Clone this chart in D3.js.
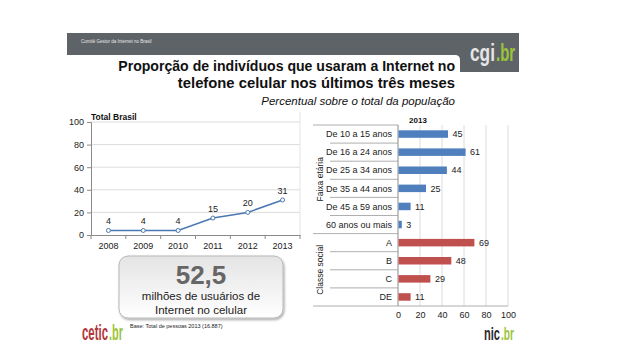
<!DOCTYPE html>
<html><head><meta charset="utf-8">
<script src="https://cdn.jsdelivr.net/npm/d3@7"></script>
<style>
html,body{margin:0;padding:0;background:#fff;}
svg{display:block;font-family:"Liberation Sans",Arial,sans-serif;}
</style></head>
<body>
<svg id="c" width="638" height="359"></svg>
<script>
// ---- data ----
const years = ["2008","2009","2010","2011","2012","2013"];
const totalValues = [4,4,4,15,20,31];
const yTicks = [0,20,40,60,80,100];
const ageGroups = ["De 10 a 15 anos","De 16 a 24 anos","De 25 a 34 anos","De 35 a 44 anos","De 45 a 59 anos","60 anos ou mais"];
const ageValues = [45,61,44,25,11,3];
const classes = ["A","B","C","DE"];
const classValues = [69,48,29,11];
const xTicks = [0,20,40,60,80,100];

const svg = d3.select("#c");

// ---- header ----
const gray = "#5e6367";
svg.append("path").attr("fill", gray)
  .attr("d", "M67,33 H519 V72 H460 V60 Q460,55 455,55 H67 Z");
svg.append("text").attr("x",81).attr("y",43).attr("font-size",4.5).attr("fill","#e8e8e8").text("Comitê Gestor da Internet no Brasil");

function logoPart(x, y, w, size, txt, col, sy){
  const t = svg.append("text").attr("x",0).attr("y",0)
    .attr("font-weight","bold").attr("font-size",size).attr("fill",col).text(txt);
  const len = t.node().getComputedTextLength();
  t.attr("transform",`translate(${x},${y}) scale(${w/len},${sy||1})`);
}
logoPart(470, 61, 25, 24, "cgi", "#e6e6e6");
logoPart(496, 61, 19, 24, ".br", "#9bc43c");

// ---- titles ----
svg.append("text").attr("x",455).attr("y",71).attr("text-anchor","end").attr("font-weight","bold").attr("font-size",14.1).attr("fill","#111")
  .text("Proporção de indivíduos que usaram a Internet no");
svg.append("text").attr("x",455).attr("y",88).attr("text-anchor","end").attr("font-weight","bold").attr("font-size",14.8).attr("fill","#111")
  .text("telefone celular nos últimos três meses");
svg.append("text").attr("x",455).attr("y",105).attr("text-anchor","end").attr("font-style","italic").attr("font-size",11.5).attr("fill","#111")
  .text("Percentual sobre o total da população");

// ---- left line chart ----
const lx = d3.scaleBand().domain(years).range([91,300]);
const ly = d3.scaleLinear().domain([0,100]).range([235,122]);
const L = svg.append("g");
L.selectAll("line.g").data(yTicks.slice(1)).join("line")
  .attr("x1",91).attr("x2",300).attr("y1",d=>ly(d)).attr("y2",d=>ly(d)).attr("stroke","#dcdcdc").attr("stroke-width",1);
L.append("line").attr("x1",300).attr("x2",300).attr("y1",112).attr("y2",235).attr("stroke","#e4e4e4");
const lyAxis = L.append("g").attr("transform","translate(91,0)").call(d3.axisLeft(ly).tickValues(yTicks).tickSize(4).tickPadding(3));
const lxAxis = L.append("g").attr("transform","translate(0,235)").call(d3.axisBottom(lx).tickSize(0).tickPadding(8));
[lyAxis,lxAxis].forEach(a=>{a.select(".domain").attr("stroke","#8a8a8a");a.selectAll(".tick line").attr("stroke","#8a8a8a");
  a.selectAll("text").attr("font-family","'Liberation Sans',Arial,sans-serif").attr("font-size",9).attr("fill","#222");});
// category separator ticks
L.selectAll("line.sep").data(years.slice(1)).join("line")
  .attr("x1",d=>lx(d)).attr("x2",d=>lx(d)).attr("y1",235).attr("y2",239).attr("stroke","#8a8a8a");
L.append("line").attr("x1",91).attr("x2",91).attr("y1",235).attr("y2",239).attr("stroke","#8a8a8a");
L.append("line").attr("x1",300).attr("x2",300).attr("y1",235).attr("y2",239).attr("stroke","#8a8a8a");
const lineColor = "#4a78b2";
L.append("path").datum(totalValues).attr("fill","none").attr("stroke",lineColor).attr("stroke-width",1.5)
  .attr("d", d3.line().x((d,i)=>lx(years[i])+lx.bandwidth()/2).y(d=>ly(d)));
L.selectAll("circle").data(totalValues).join("circle")
  .attr("cx",(d,i)=>lx(years[i])+lx.bandwidth()/2).attr("cy",d=>ly(d)).attr("r",2)
  .attr("fill","#fff").attr("stroke",lineColor).attr("stroke-width",1);
L.selectAll("text.v").data(totalValues).join("text").attr("class","v")
  .attr("x",(d,i)=>lx(years[i])+lx.bandwidth()/2).attr("y",d=>ly(d)-6).attr("text-anchor","middle")
  .attr("font-size",9).attr("fill","#222").text(d=>d);
svg.append("text").attr("x",91).attr("y",120).attr("font-weight","bold").attr("font-size",8.5).attr("fill","#111").text("Total Brasil");

// ---- right bar chart ----
const cats = ageGroups.concat(classes);
const vals = ageValues.concat(classValues);
const bx = d3.scaleLinear().domain([0,100]).range([398,508]);
const by = d3.scaleBand().domain(cats).range([125,306]);
const R = svg.append("g");
R.selectAll("line.vg").data(xTicks.slice(1)).join("line")
  .attr("x1",d=>bx(d)).attr("x2",d=>bx(d)).attr("y1",125).attr("y2",306).attr("stroke","#dcdcdc");
R.append("line").attr("x1",398).attr("x2",398).attr("y1",125).attr("y2",306).attr("stroke","#8a8a8a");
const bxAxis = R.append("g").attr("transform","translate(0,306)").call(d3.axisBottom(bx).tickValues(xTicks).tickSize(0).tickPadding(6));
bxAxis.select(".domain").remove();
bxAxis.selectAll("text").attr("font-family","'Liberation Sans',Arial,sans-serif").attr("font-size",9).attr("fill","#222");
// separators
const bounds = d3.range(cats.length+1);
R.selectAll("line.sep").data(bounds).join("line")
  .attr("x1",i=>(i===0||i===ageGroups.length||i===cats.length)?313:330)
  .attr("x2",i=>i===cats.length?508:398)
  .attr("y1",i=>by.range()[0]+i*by.step()).attr("y2",i=>by.range()[0]+i*by.step())
  .attr("stroke","#9a9a9a").attr("stroke-width",0.8);
const barH = 7.5;
R.selectAll("rect.b").data(vals).join("rect")
  .attr("x",bx(0)+0.5).attr("y",(d,i)=>by(cats[i])+by.bandwidth()/2-barH/2)
  .attr("width",d=>bx(d)-bx(0)).attr("height",barH)
  .attr("fill",(d,i)=>i<ageGroups.length?"#4f7fbd":"#c0504d");
R.selectAll("text.v").data(vals).join("text").attr("class","v")
  .attr("x",d=>bx(d)+5).attr("y",(d,i)=>by(cats[i])+by.bandwidth()/2+3.2)
  .attr("font-size",9).attr("fill","#222").text(d=>d);
R.selectAll("text.c").data(cats).join("text").attr("class","c")
  .attr("x",392).attr("y",d=>by(d)+by.bandwidth()/2+3.2).attr("text-anchor","end")
  .attr("font-size",9).attr("fill","#222").text(d=>d);
const midAge = (by(ageGroups[0]) + by(ageGroups[ageGroups.length-1])+by.bandwidth())/2;
const midCls = (by(classes[0]) + by(classes[classes.length-1])+by.bandwidth())/2;
R.append("text").attr("transform",`translate(323,${midAge}) rotate(-90)`).attr("text-anchor","middle").attr("font-size",8.5).attr("fill","#222").text("Faixa etária");
R.append("text").attr("transform",`translate(323,${midCls}) rotate(-90)`).attr("text-anchor","middle").attr("font-size",8.5).attr("fill","#222").text("Classe social");
svg.append("text").attr("x",418).attr("y",123).attr("text-anchor","middle").attr("font-weight","bold").attr("font-size",8).attr("fill","#111").text("2013");

// ---- callout box ----
const defs = svg.append("defs");
const gr = defs.append("linearGradient").attr("id","bg").attr("x1",0).attr("y1",0).attr("x2",0).attr("y2",1);
gr.append("stop").attr("offset","0%").attr("stop-color","#e4e4e4");
gr.append("stop").attr("offset","100%").attr("stop-color","#ffffff");
const fl = defs.append("filter").attr("id","sh").attr("x","-10%").attr("y","-10%").attr("width","130%").attr("height","140%");
fl.append("feDropShadow").attr("dx",1).attr("dy",1.5).attr("stdDeviation",1.2).attr("flood-color","#000").attr("flood-opacity",0.35);
svg.append("rect").attr("x",119).attr("y",256).attr("width",164).attr("height",62).attr("rx",9)
  .attr("fill","url(#bg)").attr("stroke","#b8b8b8").attr("stroke-width",1).attr("filter","url(#sh)");
svg.append("text").attr("x",201).attr("y",284).attr("text-anchor","middle").attr("font-weight","bold").attr("font-size",26).attr("fill","#666").text("52,5");
svg.append("text").attr("x",201).attr("y",300).attr("text-anchor","middle").attr("font-size",11.5).attr("fill","#222").text("milhões de usuários de");
svg.append("text").attr("x",201).attr("y",314).attr("text-anchor","middle").attr("font-size",11.5).attr("fill","#222").text("Internet no celular");

// ---- footer ----
logoPart(82, 340, 26, 22, "cetic", "#b0353a");
logoPart(109, 340, 14, 22, ".br", "#9bc43c");
svg.append("text").attr("x",130).attr("y",328).attr("font-size",5.5).attr("fill","#222").text("Base: Total de pessoas 2013 (16.887)");
logoPart(484, 340, 16, 17, "nic", "#2a2a2a", 1.1);
logoPart(501, 340, 13, 17, ".br", "#9bc43c", 1.1);
</script>
</body></html>
